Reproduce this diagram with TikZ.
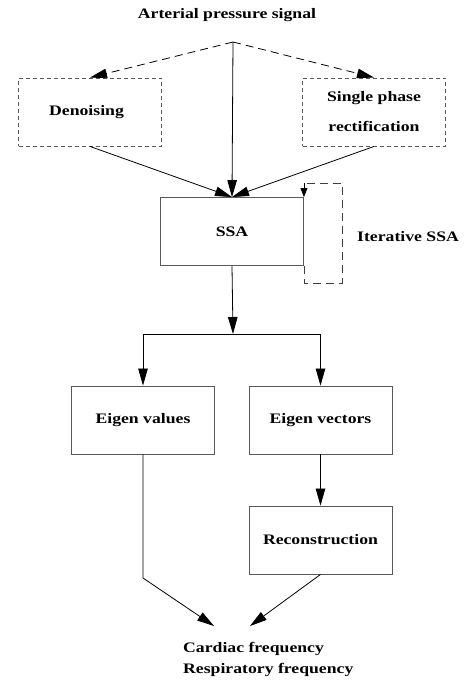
\documentclass[tikz,border=0pt]{standalone}
\usepackage{fontspec}
\setmainfont{Liberation Serif}[FakeStretch=1.22]
\usetikzlibrary{arrows.meta}
\begin{document}
\begin{tikzpicture}[x=1pt,y=-1pt,
  lbl/.style={font=\fontsize{14.5}{18}\selectfont\bfseries, inner sep=0pt},
  box/.style={draw=black!65, line width=0.9pt, minimum width=143pt, minimum height=68pt, inner sep=0pt, lbl},
  dbox/.style={box, dash pattern=on 4pt off 3pt},
  arr/.style={-{Triangle[length=17pt,width=9.5pt]}, line width=0.8pt},
  darr/.style={arr, dash pattern=on 8pt off 5pt},
  dline/.style={line width=0.9pt, draw=black!75, dash pattern=on 8pt off 5pt}]
\useasboundingbox (0,0) rectangle (465,683);
\node[lbl] (title) at (227,15) {Arterial pressure signal};
\coordinate (apex) at (233,42);
\node[dbox] (den) at (90,112) {\hspace*{-7pt}Denoising};
\node[dbox, align=center] (rect) at (374,112) {Single phase\\[12pt]rectification};
\node[box] (ssa) at (232,231.5) {SSA};
\node[lbl, anchor=west] (iter) at (357,237) {Iterative SSA};
\coordinate (split) at (233,334);
\node[box] (eval) at (143,420) {Eigen values};
\node[box] (evec) at (320.5,420) {Eigen vectors};
\node[box] (rec) at (320.5,540) {Reconstruction};
\coordinate (turn) at (143,578);
\coordinate (in1) at (214,626);
\coordinate (in2) at (250,626);
\node[lbl, anchor=north west, align=left] (out) at (183,642) {Cardiac frequency\\[3pt]Respiratory frequency};
% connectors
\draw[darr] (apex) -- (den.north);
\draw[darr] (apex) -- (rect.north);
\draw[arr] (apex) -- (ssa.north);
\draw[arr] (den.south) -- (ssa.north);
\draw[arr] (rect.south) -- (ssa.north);
\draw[dline] (ssa.south east) -- ++(0,17) -| (342,183) -- (ssa.north east |- 0,183);
\draw[-{Triangle[length=9pt,width=7pt]}, line width=0.8pt, dash pattern=on 8pt off 5pt] (ssa.north east |- 0,183) -- (ssa.north east);
\draw[arr] (ssa.south) -- (split);
\draw[line width=0.8pt] (eval.north |- split) -- (evec.north |- split);
\draw[arr] (eval.north |- split) -- (eval.north);
\draw[arr] (evec.north |- split) -- (evec.north);
\draw[arr] (evec.south) -- (rec.north);
\draw[arr] (eval.south) -- (turn) -- (in1);
\draw[arr] (rec.south) -- (in2);
\end{tikzpicture}
\end{document}
